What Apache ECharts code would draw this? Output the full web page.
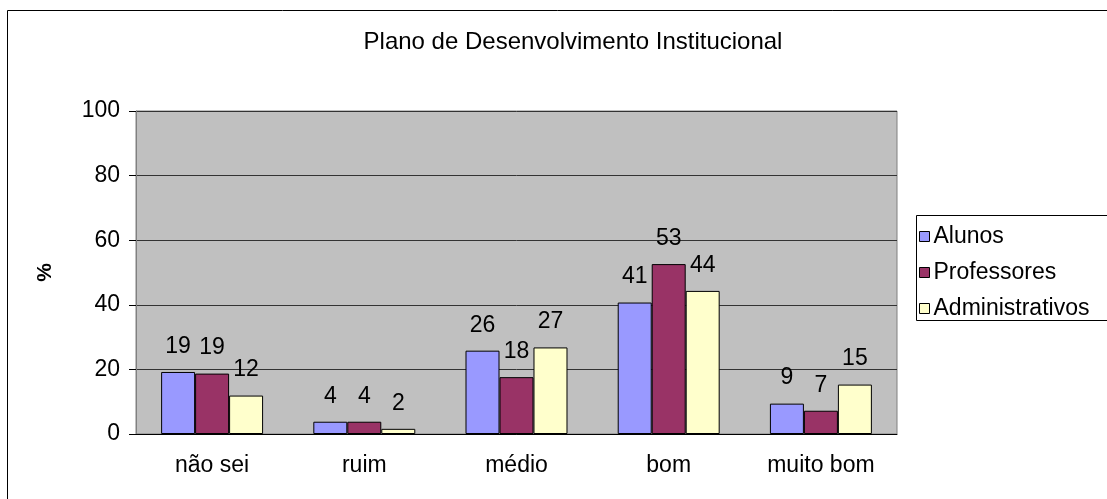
<!DOCTYPE html>
<html>
<head>
<meta charset="utf-8">
<title>Plano de Desenvolvimento Institucional</title>
<script src="https://cdn.jsdelivr.net/npm/echarts@6/dist/echarts.min.js"></script>
<style>
  html, body { margin: 0; padding: 0; background: #fff; }
  #chart { width: 1107px; height: 499px; }
</style>
</head>
<body>
<div id="chart"></div>
<script>
// categorias e valores (%)
const categorias = ['não sei', 'ruim', 'médio', 'bom', 'muito bom']
const alunos = [19.2, 3.8, 25.8, 40.7, 9.4]
const professores = [18.7, 3.8, 17.6, 52.6, 7.2]
const administrativos = [11.9, 1.6, 26.8, 44.3, 15.3]
const seriesNomes = ['Alunos', 'Professores', 'Administrativos']
const cores = ['#9999FF', '#993366', '#FFFFCC']

const fonte = "'Liberation Sans', Arial, sans-serif"

const chart = echarts.init(document.getElementById('chart'))

function barra(nome, dados, cor) {
  return {
    name: nome,
    type: 'bar',
    data: dados,
    barGap: '0%',
    barCategoryGap: '33%',
    animation: false,
    itemStyle: {
      color: cor,
      borderColor: '#000',
      borderWidth: 1
    },
    label: {
      show: true,
      position: 'top',
      distance: 14,
      color: '#000',
      fontFamily: fonte,
      fontSize: 23,
      formatter: p => Math.round(p.value)
    }
  }
}

chart.setOption({
  backgroundColor: '#fff',
  title: {
    text: 'Plano de Desenvolvimento Institucional',
    left: 568,
    top: 25,
    textAlign: 'center',
    textStyle: {
      fontFamily: fonte,
      fontSize: 24,
      fontWeight: 'normal',
      color: '#000'
    }
  },
  graphic: [
    // moldura externa do gráfico
    {
      type: 'rect',
      shape: { x: 7.5, y: 10.5, width: 1200, height: 600 },
      style: { fill: 'none', stroke: '#000', lineWidth: 1 },
      silent: true
    },
    // moldura da legenda
    {
      type: 'rect',
      shape: { x: 916.5, y: 215.5, width: 300, height: 105 },
      style: { fill: '#fff', stroke: '#000', lineWidth: 1 },
      z: -1,
      silent: true
    }
  ],
  legend: {
    data: seriesNomes,
    orient: 'vertical',
    left: 914,
    top: 220,
    itemWidth: 10,
    itemHeight: 10,
    itemGap: 13,
    icon: 'rect',
    itemStyle: { borderColor: '#000', borderWidth: 1 },
    textStyle: { fontFamily: fonte, fontSize: 23, color: '#000', padding: [0, 0, 0, -1] }
  },
  grid: {
    left: 136,
    right: 210,
    top: 111,
    bottom: 65,
    show: true,
    backgroundColor: '#C0C0C0',
    borderColor: '#808080',
    borderWidth: 1
  },
  xAxis: {
    type: 'category',
    data: categorias,
    axisLine: { lineStyle: { color: '#000', width: 1 } },
    axisTick: { length: 7, lineStyle: { color: '#000' } },
    axisLabel: { fontFamily: fonte, fontSize: 23, color: '#000', margin: 20 }
  },
  yAxis: {
    type: 'value',
    min: 0,
    max: 100,
    interval: 20,
    name: '%',
    nameLocation: 'middle',
    nameRotate: 90,
    nameGap: 80,
    nameTextStyle: { fontFamily: fonte, fontSize: 21, fontWeight: 'bold', color: '#000' },
    axisLine: { show: true, lineStyle: { color: '#808080', width: 1 } },
    axisTick: { show: true, length: 7, lineStyle: { color: '#000' } },
    axisLabel: { fontFamily: fonte, fontSize: 23, color: '#000', margin: 16 },
    splitLine: { lineStyle: { color: '#333', width: 1 } }
  },
  series: [
    barra(seriesNomes[0], alunos, cores[0]),
    barra(seriesNomes[1], professores, cores[1]),
    barra(seriesNomes[2], administrativos, cores[2])
  ]
})
</script>
</body>
</html>
